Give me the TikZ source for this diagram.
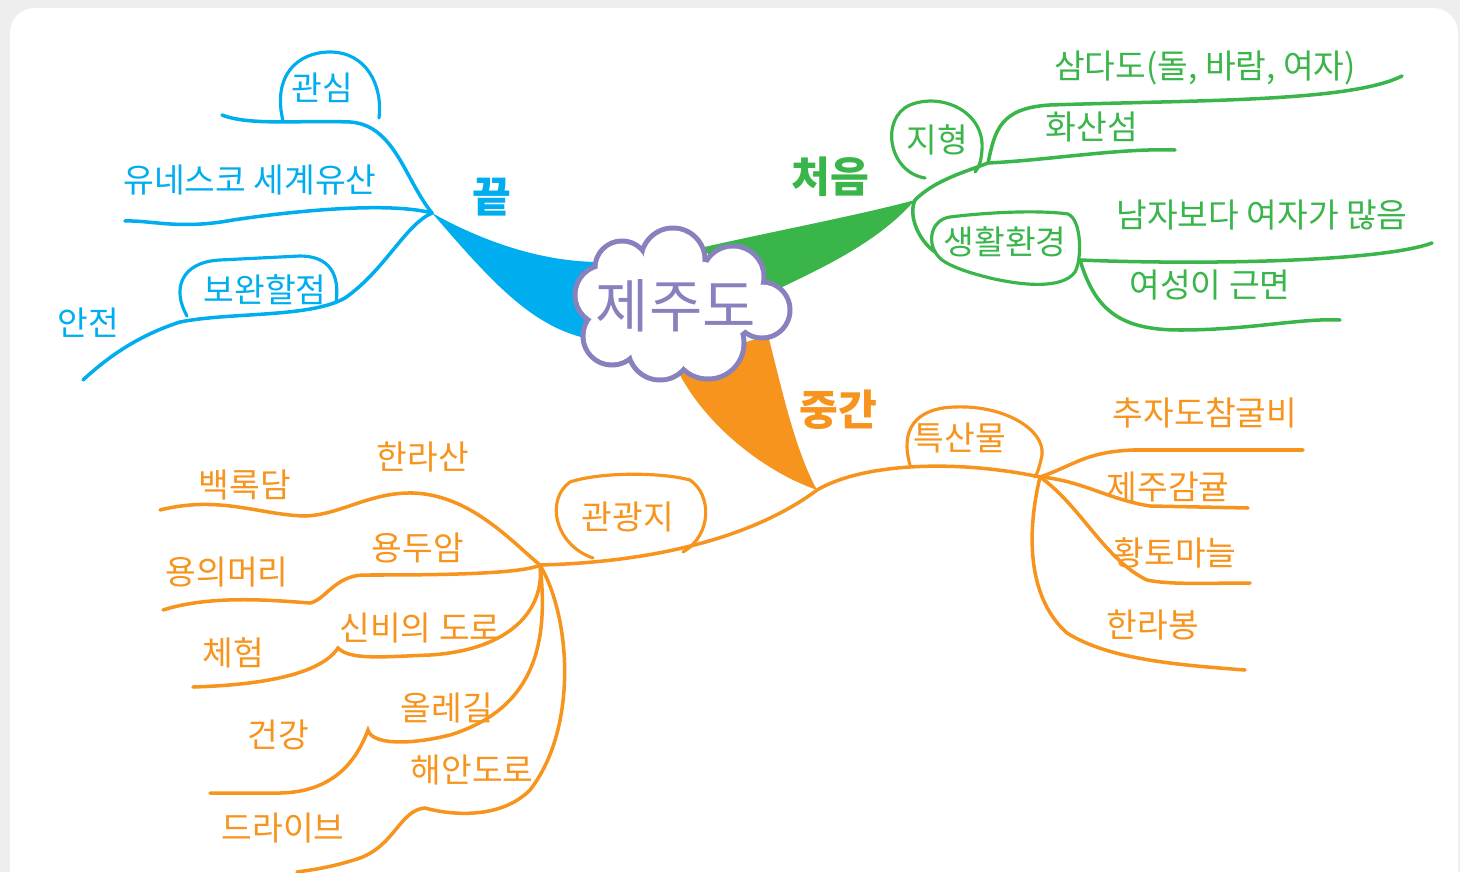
\documentclass[tikz,border=0pt]{standalone}
\usepackage{fontspec}
\setmainfont{Noto Sans CJK KR}
\usetikzlibrary{positioning}
\definecolor{mapblue}{RGB}{0,174,239}
\definecolor{mapgreen}{RGB}{57,181,74}
\definecolor{maporange}{RGB}{247,148,29}
\definecolor{cloudpurple}{RGB}{135,129,189}
\definecolor{framegray}{RGB}{238,238,238}

\begin{document}
\begin{tikzpicture}[
    x=0.02cm, y=-0.02cm,
    twig/.style={line width=2pt, line cap=round},
    bubble/.style={line width=1.8pt, line cap=round},
    leaf/.style={font=\fontsize{19}{21}\selectfont, inner sep=0pt},
    mainlabel/.style={font=\fontsize{24}{26}\selectfont\bfseries, inner sep=0pt}
]
\useasboundingbox (0,0) rectangle (1460,872);
\clip (0,0) rectangle (1460,872);

% Frame
\fill[framegray] (0,0) rectangle (1460,872);
\fill[white, rounded corners=14pt] (10,8) rectangle (1458,920);

% Hubs
\coordinate (endhub) at (432,213);
\coordinate (starthub) at (915,200);
\coordinate (midhub) at (817,490);
\coordinate (tourhub) at (540,565);
\coordinate (prodhub) at (1040,477);
\coordinate (terrainhub) at (988,163);
\coordinate (livinghub) at (1080,260);

% Thick branches
\fill[mapblue] (endhub) .. controls (480,240) and (540,262) .. (600,262) -- (585,338) .. controls (530,325) and (490,280) .. (endhub);
\fill[mapgreen] (starthub) .. controls (860,215) and (770,232) .. (700,248) -- (765,295) .. controls (830,265) and (880,240) .. (starthub);
\fill[maporange] (midhub) .. controls (760,470) and (700,420) .. (675,365) -- (768,335) .. controls (782,390) and (795,450) .. (midhub);

% Cloud
\foreach \cx/\cy/\r in {673/260/32, 622/268/27, 733/277/31, 762/310/28, 708/343/36, 660/348/32, 612/336/29, 605/295/30}
  \fill[cloudpurple] (\cx,\cy) circle[radius={(\r+2.5)*0.02cm}];
\foreach \cx/\cy/\r in {673/260/32, 622/268/27, 733/277/31, 762/310/28, 708/343/36, 660/348/32, 612/336/29, 605/295/30}
  \fill[white] (\cx,\cy) circle[radius={(\r-2.5)*0.02cm}];
\fill[white] (682,305) ellipse[x radius=1.5cm, y radius=0.9cm];
\node[font=\fontsize{33}{35}\selectfont, text=cloudpurple, inner sep=0pt] (center) at (676,306) {제주도};

% Main labels
\node[mainlabel, text=mapblue] (endtag) at (492,197) {끝};
\node[mainlabel, text=mapgreen] (starttag) at (830,177) {처음};
\node[mainlabel, text=maporange] (midtag) at (838,410) {중간};

% Blue branch
\begin{scope}[draw=mapblue, text=mapblue]
\draw[twig] (endhub) .. controls (405,180) and (395,125) .. (350,122) .. controls (300,120) and (250,126) .. (222,115);
\draw[bubble] (283,121) .. controls (272,75) and (298,52) .. (330,52) .. controls (366,52) and (383,85) .. (379,118);
\draw[twig] (endhub) .. controls (390,202) and (300,210) .. (233,220) .. controls (180,230) and (150,220) .. (125,221);
\draw[twig] (endhub) .. controls (405,225) and (385,270) .. (345,298) .. controls (310,318) and (230,312) .. (180,322) .. controls (140,335) and (110,355) .. (83,380);
\draw[bubble] (187,316) .. controls (172,290) and (180,262) .. (220,260) -- (300,256) .. controls (330,256) and (340,275) .. (336,303);
\node[leaf] (interest) at (322,88) {관심};
\node[leaf] (unesco) at (250,180) {유네스코 세계유산};
\node[leaf] (improve) at (265,290) {보완할점};
\node[leaf] (safety) at (88,323) {안전};
\end{scope}

% Green branch
\begin{scope}[draw=mapgreen, text=mapgreen]
\draw[bubble] (925,178) .. controls (888,172) and (880,118) .. (910,105) .. controls (942,92) and (985,112) .. (982,150) .. controls (981,160) and (980,166) .. (975,172);
\draw[twig] (starthub) .. controls (935,180) and (965,172) .. (terrainhub) .. controls (995,130) and (1000,108) .. (1050,105) .. controls (1200,100) and (1350,102) .. (1402,76);
\draw[twig] (terrainhub) .. controls (1050,160) and (1120,148) .. (1175,150);
\draw[twig] (starthub) .. controls (908,215) and (918,240) .. (935,252);
\draw[bubble] (945,262) .. controls (925,250) and (928,220) .. (950,217) .. controls (990,212) and (1040,210) .. (1068,214) .. controls (1082,220) and (1082,260) .. (1075,272) .. controls (1062,290) and (1020,285) .. (990,278) .. controls (970,273) and (955,268) .. (945,262);
\draw[twig] (livinghub) .. controls (1200,265) and (1380,262) .. (1432,243);
\draw[twig] (livinghub) .. controls (1095,310) and (1120,330) .. (1180,330) .. controls (1250,330) and (1300,318) .. (1340,320);
\node[leaf] (terrain) at (937,140) {지형};
\node[leaf] (samdado) at (1205,68) {삼다도(돌, 바람, 여자)};
\node[leaf] (volcano) at (1092,127) {화산섬};
\node[leaf] (living) at (1005,242) {생활환경};
\node[leaf] (morewomen) at (1262,215) {남자보다 여자가 많음};
\node[leaf] (diligent) at (1210,285) {여성이 근면};
\end{scope}

% Orange branch
\begin{scope}[draw=maporange, text=maporange]
\draw[twig] (tourhub) .. controls (660,562) and (757,535) .. (midhub) .. controls (865,462) and (960,460) .. (prodhub);
\draw[bubble] (593,558) .. controls (555,545) and (545,500) .. (570,482) .. controls (600,472) and (660,472) .. (690,480) .. controls (712,495) and (712,535) .. (683,552);
\draw[bubble] (910,465) .. controls (900,430) and (915,408) .. (955,407) .. controls (1005,405) and (1045,430) .. (1042,455) .. controls (1040,465) and (1038,472) .. (1035,477);
% products
\draw[twig] (prodhub) .. controls (1075,465) and (1085,452) .. (1133,450) -- (1303,450);
\draw[twig] (prodhub) .. controls (1080,480) and (1110,500) .. (1150,506) -- (1248,508);
\draw[twig] (prodhub) .. controls (1080,505) and (1105,560) .. (1147,580) .. controls (1170,585) and (1210,583) .. (1250,583);
\draw[twig] (prodhub) .. controls (1025,540) and (1030,600) .. (1067,633) .. controls (1110,660) and (1180,665) .. (1245,670);
% sights
\draw[twig] (tourhub) .. controls (510,540) and (470,495) .. (413,493) .. controls (370,492) and (340,515) .. (305,516) .. controls (260,515) and (220,495) .. (160,510);
\draw[twig] (tourhub) .. controls (520,575) and (420,575) .. (363,575) .. controls (335,576) and (325,600) .. (310,603) .. controls (270,600) and (210,595) .. (163,610);
\draw[twig] (tourhub) .. controls (545,610) and (510,650) .. (430,655) .. controls (380,657) and (350,660) .. (338,648) .. controls (320,675) and (260,685) .. (193,687);
\draw[twig] (tourhub) .. controls (550,650) and (530,710) .. (450,735) .. controls (410,745) and (372,745) .. (368,730) .. controls (355,765) and (330,792) .. (280,793) -- (210,793);
\draw[twig] (tourhub) .. controls (572,620) and (577,730) .. (530,790) .. controls (500,820) and (450,815) .. (425,808) .. controls (400,810) and (395,845) .. (360,858) .. controls (330,868) and (310,870) .. (297,872);
\node[leaf] (tour) at (628,517) {관광지};
\node[leaf] (products) at (960,438) {특산물};
\node[leaf] (chuja) at (1205,413) {추자도참굴비};
\node[leaf] (tangerine) at (1168,487) {제주감귤};
\node[leaf] (garlic) at (1175,553) {황토마늘};
\node[leaf] (hallabong) at (1153,625) {한라봉};
\node[leaf] (hallasan) at (423,457) {한라산};
\node[leaf] (baengnokdam) at (245,485) {백록담};
\node[leaf] (yongduam) at (418,548) {용두암};
\node[leaf] (yonguimeori) at (227,572) {용의머리};
\node[leaf] (mysteryroad) at (420,628) {신비의 도로};
\node[leaf] (experience) at (233,653) {체험};
\node[leaf] (olle) at (447,708) {올레길};
\node[leaf] (health) at (278,735) {건강};
\node[leaf] (coastroad) at (472,770) {해안도로};
\node[leaf] (drive) at (283,828) {드라이브};
\end{scope}
\end{tikzpicture}
\end{document}
